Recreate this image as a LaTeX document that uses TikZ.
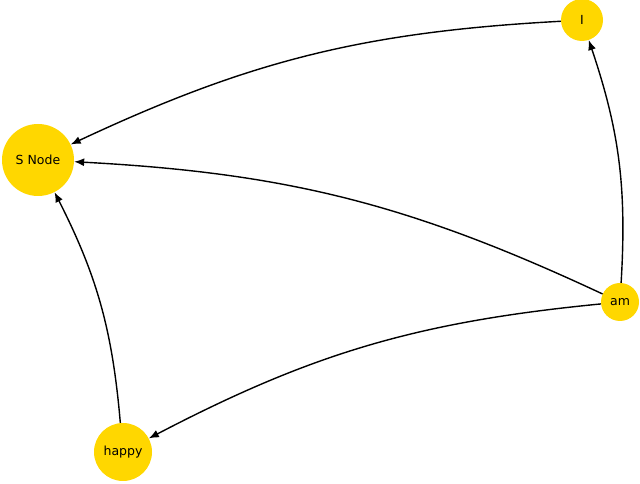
\documentclass[tikz,border=0pt]{standalone}
\usepackage{fontspec}
\setmainfont{DejaVu Sans}
\usetikzlibrary{arrows.meta}
\definecolor{gold}{HTML}{FFD700}
\begin{document}
\begin{tikzpicture}[x=1pt,y=1pt,
  nd/.style={circle,fill=gold,inner sep=0pt,font=\fontsize{12.5}{15}\selectfont},
  ed/.style={-{Latex[length=10pt,width=8pt]},line width=1.4pt,bend right=11}]
\useasboundingbox (0,0) rectangle (640,484);
\node[nd,minimum size=72] (s) at (38,324) {S Node};
\node[nd,minimum size=42] (i) at (582,464) {I};
\node[nd,minimum size=38] (am) at (620,182) {am};
\node[nd,minimum size=58] (h) at (123,32) {happy};
\draw[ed] (i) to (s);
\draw[ed] (am) to (i);
\draw[ed] (am) to (s);
\draw[ed] (am) to (h);
\draw[ed] (h) to (s);
\end{tikzpicture}
\end{document}
